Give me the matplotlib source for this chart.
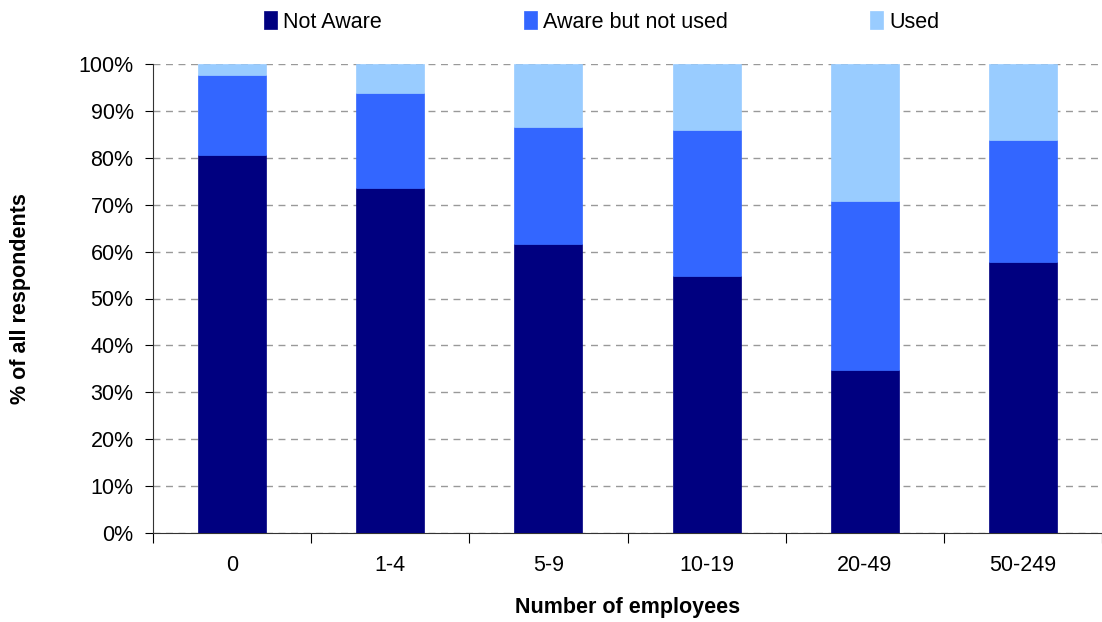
import matplotlib.pyplot as plt
import numpy as np

plt.rcParams['font.family'] = ['Liberation Sans', 'DejaVu Sans']

categories = ['0', '1-4', '5-9', '10-19', '20-49', '50-249']
not_aware = [80.6, 73.6, 61.6, 54.9, 34.8, 57.8]
aware_not_used = [17.1, 20.2, 25.0, 31.0, 36.0, 26.1]
used = [2.3, 6.2, 13.4, 14.1, 29.2, 16.1]

series = [('Not Aware', not_aware, '#000080'),
          ('Aware but not used', aware_not_used, '#3366ff'),
          ('Used', used, '#99ccff')]

FS = 15.5

fig = plt.figure(figsize=(11.02, 6.22), dpi=100)
ax = fig.add_axes([153 / 1102, 1 - 533 / 622, 1 - 153 / 1102, (533 - 64) / 622])

x = np.arange(len(categories))
bottom = np.zeros(len(categories))
handles = []
for name, vals, col in series:
    b = ax.bar(x, vals, 0.43, bottom=bottom, color=col, label=name,
               edgecolor=col, linewidth=0.5, zorder=3)
    handles.append(b)
    bottom += np.array(vals)

ax.set_xlim(-0.5, len(categories) - 0.5)
ax.set_ylim(0, 100)
ax.set_yticks(np.arange(0, 101, 10))
ax.set_yticklabels([f'{v}%' for v in range(0, 101, 10)], fontsize=FS)
ax.yaxis.grid(True, linestyle=(0, (5, 4)), color='#999999', linewidth=1, zorder=0)

# category ticks between bars, labels centred
ax.set_xticks(np.arange(-0.5, len(categories), 1))
ax.set_xticklabels([])
ax.set_xticks(x, minor=True)
ax.set_xticklabels(categories, minor=True, fontsize=FS)
ax.tick_params(axis='x', which='minor', length=0, pad=16)
ax.tick_params(axis='x', which='major', length=7, direction='out')
ax.tick_params(axis='y', length=6, direction='out', pad=8)

for s in ['top', 'right']:
    ax.spines[s].set_visible(False)
ax.spines['left'].set_color('#333333')
ax.spines['bottom'].set_color('#333333')

ax.set_xlabel('Number of employees', fontsize=FS, fontweight='bold')
ax.set_ylabel('% of all respondents', fontsize=FS, fontweight='bold')
ax.xaxis.label.set_va('center')
ax.yaxis.label.set_va('center')
ax.xaxis.set_label_coords(0.5, (533 - 607) / 469)
ax.yaxis.set_label_coords((21 - 153) / 949, 0.5)

fig.legend(handles=handles, loc='center', bbox_to_anchor=(0.546, 1 - 22 / 622),
           ncol=3, frameon=False, fontsize=FS, handlelength=0.6, handleheight=0.9,
           handletextpad=0.3, columnspacing=6.6)

fig.savefig('out.png', dpi=100)
